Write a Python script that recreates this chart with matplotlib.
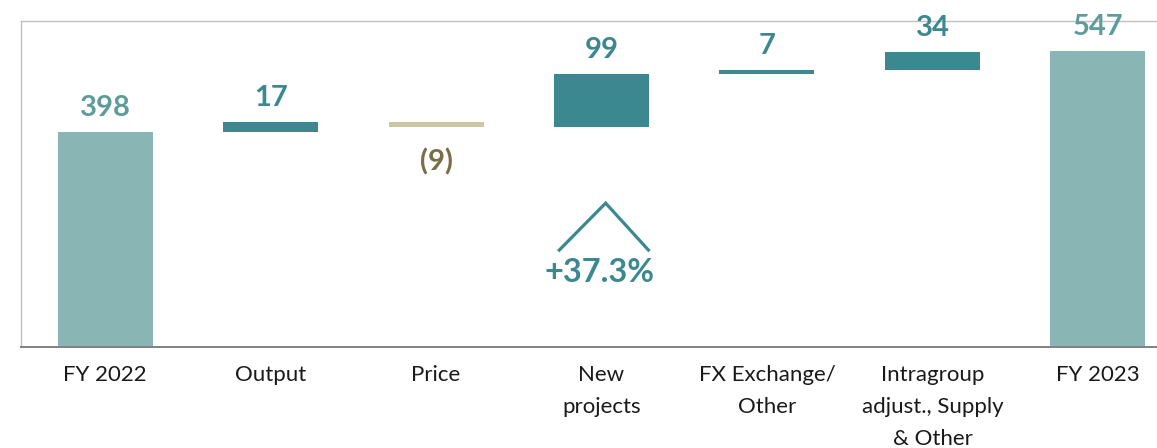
import matplotlib
matplotlib.use("Agg")
import matplotlib.pyplot as plt
import numpy as np

# ── data ───────────────────────────────────────────────────────────────────
categories = ['FY 2022', 'Output', 'Price', 'New\nprojects', 'FX Exchange/\nOther',
              'Intragroup\nadjust., Supply\n& Other', 'FY 2023']
values = [398, 17, -9, 99, 7, 34, 547]
is_total = [True, False, False, False, False, False, True]
labels = ['398', '17', '(9)', '99', '7', '34', '547']
growth_label = '+37.3%'

# ── style ──────────────────────────────────────────────────────────────────
C_TOTAL = '#8ab5b5'
C_TOTAL_TXT = '#5e9b9b'
C_UP = '#3c8890'
C_DOWN = '#cbc7a3'
C_DOWN_TXT = '#7a6e48'
plt.rcParams['font.family'] = ['Lato', 'DejaVu Sans']

W, H = 1157, 448
fig = plt.figure(figsize=(W / 100, H / 100), dpi=100)
ax = fig.add_axes([21 / W, (H - 347) / H, (W - 21) / W, 326 / H])

x = np.arange(len(categories))
bar_w = 0.574

# waterfall bottoms / heights
bottoms, heights, colors = [], [], []
running = 0
for v, tot in zip(values, is_total):
    if tot:
        bottoms.append(0)
        heights.append(v)
        colors.append(C_TOTAL)
        running = v
    else:
        bottoms.append(min(running, running + v))
        heights.append(abs(v))
        colors.append(C_UP if v >= 0 else C_DOWN)
        running += v

ax.bar(x, heights, bottom=bottoms, width=bar_w, color=colors, linewidth=0, zorder=2)

px = 72 / 100  # points per pixel
for xi, v, tot, b, h, lab in zip(x, values, is_total, bottoms, heights, labels):
    if tot:
        col = C_TOTAL_TXT
    elif v >= 0:
        col = C_UP
    else:
        col = C_DOWN_TXT
    if v >= 0:
        ax.annotate(lab, (xi, b + h), xytext=(0, 16 * px), textcoords='offset points',
                    ha='center', va='baseline', fontsize=21, fontweight='bold',
                    color=col, annotation_clip=False, zorder=3)
    else:
        ax.annotate(lab, (xi, b), xytext=(0, -43 * px), textcoords='offset points',
                    ha='center', va='baseline', fontsize=21, fontweight='bold',
                    color=col, annotation_clip=False, zorder=3)

# category labels
for xi, cat in zip(x, categories):
    ax.annotate(cat, (xi, 0), xytext=(0, -18 * px), textcoords='offset points',
                ha='center', va='top', fontsize=16, color='#1a1a1a',
                linespacing=1.74, annotation_clip=False)

# growth chevron under "New projects"
gi = 3
ax.plot([gi - 0.262, gi + 0.025, gi + 0.29], [177, 266, 177], color=C_UP,
        lw=2.3, solid_capstyle='butt', solid_joinstyle='miter', zorder=2)
ax.text(gi - 0.01, 120, growth_label, ha='center', va='baseline', fontsize=23.5,
        fontweight='bold', color=C_UP)

ax.set_xlim(-0.508, 6.357)
ax.set_ylim(0, 602.6)
ax.set_xticks([])
ax.set_yticks([])
ax.spines['right'].set_visible(False)
for s in ('top', 'left'):
    ax.spines[s].set_color('#c0c0c0')
    ax.spines[s].set_linewidth(1.0)
ax.spines['bottom'].set_color('#808080')
ax.spines['bottom'].set_linewidth(1.4)

fig.savefig('out.png', dpi=100)
